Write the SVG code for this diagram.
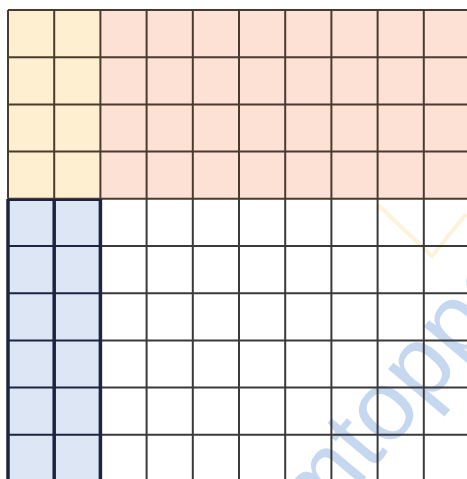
<svg xmlns="http://www.w3.org/2000/svg" width="467" height="479" viewBox="0 0 467 479">
<style>
.g{stroke:#3a3a3a;stroke-width:2;fill:none}
.b{stroke:#4a3b30;stroke-width:2;fill:none}
.n{stroke:#1b2440;stroke-width:3.5;fill:none}
.nh{stroke:#1b2440;stroke-width:2;fill:none}
.wm{font-family:"Liberation Sans",Arial,sans-serif;font-size:100px;fill:#c6d8f0}
</style>
<rect width="467" height="479" fill="#ffffff"/>
<g id="fills">
<rect x="8" y="10" width="92.4" height="188.8" fill="#fdefd0"/>
<rect x="100.4" y="10" width="366.6" height="188.8" fill="#fde1d5"/>
<rect x="8" y="198.8" width="92.4" height="280.2" fill="#dce6f4"/>
</g>
<g id="watermark">
<polyline points="378,205 432,256 466,214" fill="none" stroke="#fbe9c2" stroke-width="4" opacity="0.6"/>
<text class="wm" transform="translate(317,536) rotate(-50)">mtopper</text>
</g>
<g id="grid-white">
<line class="g" x1="100.4" y1="245.99" x2="467" y2="245.99"/>
<line class="g" x1="100.4" y1="293.2" x2="467" y2="293.2"/>
<line class="g" x1="100.4" y1="340.4" x2="467" y2="340.4"/>
<line class="g" x1="100.4" y1="387.6" x2="467" y2="387.6"/>
<line class="g" x1="100.4" y1="434.8" x2="467" y2="434.8"/>
<line class="g" x1="146.6" y1="198.8" x2="146.6" y2="479"/>
<line class="g" x1="192.8" y1="198.8" x2="192.8" y2="479"/>
<line class="g" x1="239" y1="198.8" x2="239" y2="479"/>
<line class="g" x1="285.2" y1="198.8" x2="285.2" y2="479"/>
<line class="g" x1="331.4" y1="198.8" x2="331.4" y2="479"/>
<line class="g" x1="377.6" y1="198.8" x2="377.6" y2="479"/>
<line class="g" x1="423.8" y1="198.8" x2="423.8" y2="479"/>
</g>
<g id="grid-top">
<line class="b" x1="8" y1="10" x2="467" y2="10"/>
<line class="b" x1="8" y1="57.2" x2="467" y2="57.2"/>
<line class="b" x1="8" y1="104.4" x2="467" y2="104.4"/>
<line class="b" x1="8" y1="151.6" x2="467" y2="151.6"/>
<line class="b" x1="8" y1="198.8" x2="467" y2="198.8"/>
<line class="b" x1="8" y1="10" x2="8" y2="198.8"/>
<line class="b" x1="54.2" y1="10" x2="54.2" y2="198.8"/>
<line class="b" x1="100.4" y1="10" x2="100.4" y2="198.8"/>
<line class="b" x1="146.6" y1="10" x2="146.6" y2="198.8"/>
<line class="b" x1="192.8" y1="10" x2="192.8" y2="198.8"/>
<line class="b" x1="239" y1="10" x2="239" y2="198.8"/>
<line class="b" x1="285.2" y1="10" x2="285.2" y2="198.8"/>
<line class="b" x1="331.4" y1="10" x2="331.4" y2="198.8"/>
<line class="b" x1="377.6" y1="10" x2="377.6" y2="198.8"/>
<line class="b" x1="423.8" y1="10" x2="423.8" y2="198.8"/>
</g>
<g id="grid-blue">
<line class="nh" x1="8" y1="245.99" x2="100.4" y2="245.99"/>
<line class="nh" x1="8" y1="293.2" x2="100.4" y2="293.2"/>
<line class="nh" x1="8" y1="340.4" x2="100.4" y2="340.4"/>
<line class="nh" x1="8" y1="387.6" x2="100.4" y2="387.6"/>
<line class="nh" x1="8" y1="434.8" x2="100.4" y2="434.8"/>
<line class="nh" x1="8" y1="200" x2="100.4" y2="200"/>
<line class="n" x1="8" y1="199" x2="8" y2="479"/>
<line class="n" x1="54.2" y1="199" x2="54.2" y2="479"/>
<line class="n" x1="100.4" y1="199" x2="100.4" y2="479"/>
</g>
</svg>
